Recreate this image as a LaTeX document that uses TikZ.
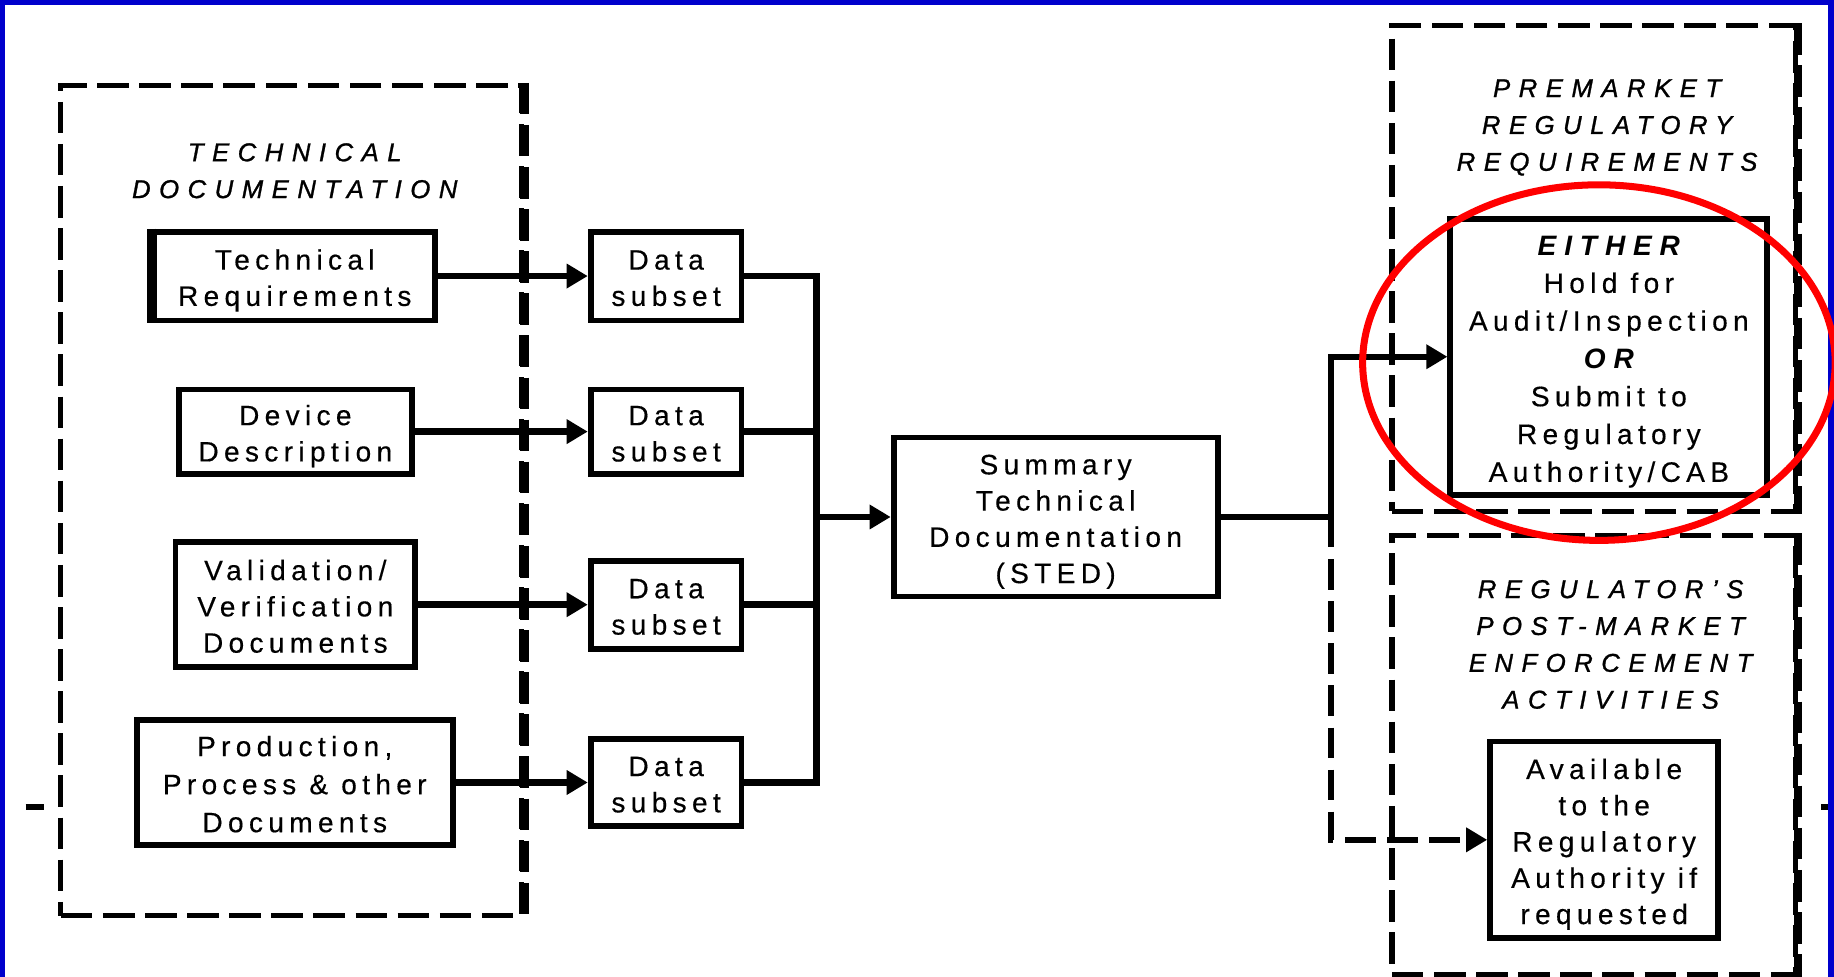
\documentclass[tikz,border=0pt]{standalone}
\usepackage{fontspec}
\setmainfont{Liberation Sans}
\newfontfamily\bodyfont[LetterSpace=19,FakeBold=0.4]{Liberation Sans}
\newfontfamily\headfont[LetterSpace=33,FakeBold=1]{Liberation Sans}
\newfontfamily\keyfont[LetterSpace=28]{Liberation Sans}
\usetikzlibrary{arrows.meta}
\definecolor{frameblue}{RGB}{0,0,204}
\definecolor{ringred}{RGB}{255,0,0}

% struts that give every box text the same first-line height and last-line depth
\newcommand{\bt}[1]{\rule{0pt}{25pt}#1\rule[-5pt]{0pt}{5pt}}
\newcommand{\keyword}[1]{{\keyfont\bfseries\itshape #1}}

\tikzset{
  box/.style={draw, line width=5pt, fill=white, inner sep=0pt, align=center,
    font=\bodyfont\fontsize{24}{31}\selectfont},
  groupbox/.style={draw, line width=4.5pt, dash pattern=on 27pt off 9pt, inner sep=0pt},
  groupedge/.style={line width=7.5pt, dash pattern=on 27pt off 9pt},
  heading/.style={align=center, inner sep=0pt,
    font=\headfont\itshape\fontsize{22}{31.5}\selectfont},
  link/.style={line width=5.5pt},
  arr/.style={link, -{Triangle[length=18pt,width=20pt]}},
  dashlink/.style={arr, dash pattern=on 26pt off 10pt}
}

\begin{document}
\begin{tikzpicture}[x=1pt,y=-1pt]
\useasboundingbox (0,0) rectangle (1568,835);
\fill[white] (0,0) rectangle (1568,835);

% slide frame
\fill[frameblue] (0,0) rectangle (1568,4);
\fill[frameblue] (0,0) rectangle (4,835);
\fill[frameblue] (1563,0) rectangle (1568,835);

% stray ticks at the slide edges
\draw[line width=4.5pt] (22,690) -- (38,690);
\draw[line width=4.5pt] (1557,690) -- (1563,690);

% dashed groups
\node[groupbox, minimum width=394pt, minimum height=710pt] (techgrp) at (249,428) {};
\draw[groupedge] (techgrp.north east) -- (techgrp.south east);
\node[groupbox, minimum width=345pt, minimum height=415pt] (pregrp) at (1362.5,229.5) {};
\draw[groupedge] (pregrp.north east) -- (pregrp.south east);
\node[groupbox, minimum width=345pt, minimum height=375pt] (postgrp) at (1362.5,645.5) {};
\draw[groupedge] (postgrp.north east) -- (postgrp.south east);

% group headings
\node[heading] (techhead) at (252,146) {TECHNICAL\\DOCUMENTATION};
\node[heading] (prehead) at (1374,109) {PREMARKET\\REGULATORY\\REQUIREMENTS};
\node[heading] (posthead) at (1377,551) {REGULATOR’S\\POST-MARKET\\ENFORCEMENT\\ACTIVITIES};

% source documents
\node[box, minimum width=240pt, minimum height=76pt] (treq) at (252,236) {\bt{Technical\\Requirements}};
\draw[line width=7pt] (treq.north west) -- (treq.south west);
\node[box, minimum width=199pt, minimum height=72pt] (ddesc) at (252.5,369) {\bt{Device\\Description}};
\node[box, minimum width=205pt, minimum height=107pt] (vv) at (252.5,517) {\bt{Validation/\\Verification\\Documents}};
\node[box, minimum width=270pt, minimum height=107pt, font=\bodyfont\fontsize{24}{32.5}\selectfont] (prod) at (252,669) {\bt{Production,\\Process \& other\\Documents}};

% data subsets
\node[box, minimum width=129pt, minimum height=76pt] (ds1) at (569.5,236) {\bt{Data\\subset}};
\node[box, minimum width=129pt, minimum height=72pt] (ds2) at (569.5,369) {\bt{Data\\subset}};
\node[box, minimum width=129pt, minimum height=75pt] (ds3) at (569.5,517) {\bt{Data\\subset}};
\node[box, minimum width=129pt, minimum height=74pt] (ds4) at (569.5,669) {\bt{Data\\subset}};

% summary
\node[box, minimum width=277pt, minimum height=136pt] (sted) at (902.5,442) {\bt{Summary\\Technical\\Documentation\\(STED)}};

% outcomes
\node[box, minimum width=271pt, minimum height=236pt, font=\bodyfont\fontsize{24}{32.3}\selectfont] (either) at (1375.5,305)
  {\bt{\keyword{EITHER}\\Hold for\\Audit/Inspection\\\keyword{OR}\\Submit to\\Regulatory\\Authority/CAB}};
\node[box, minimum width=195pt, minimum height=168pt] (avail) at (1371.5,718)
  {\bt{Available\\to the\\Regulatory\\Authority if\\requested}};

% connectors
\coordinate (bus) at (698,442);
\coordinate (split) at (1138,442);

\draw[arr] (treq.east) -- (ds1.west);
\draw[arr] (ddesc.east) -- (ds2.west);
\draw[arr] (vv.east) -- (ds3.west);
\draw[arr] (prod.east) -- (ds4.west);

\draw[link] (ds1.east) -- (ds1.east -| bus) -- (ds4.east -| bus) -- (ds4.east);
\draw[link] (ds2.east) -- (ds2.east -| bus);
\draw[link] (ds3.east) -- (ds3.east -| bus);
\draw[arr] (bus) -- (sted.west);

\draw[arr] (sted.east) -- (split) -- (split |- either.west) -- (either.west);
\draw[dashlink] (split) -- (split |- avail.west) -- (avail.west);

% highlight ring
\draw[ringred, line width=6pt] (1367,310) ellipse [x radius=202pt, y radius=152pt];
\end{tikzpicture}
\end{document}
